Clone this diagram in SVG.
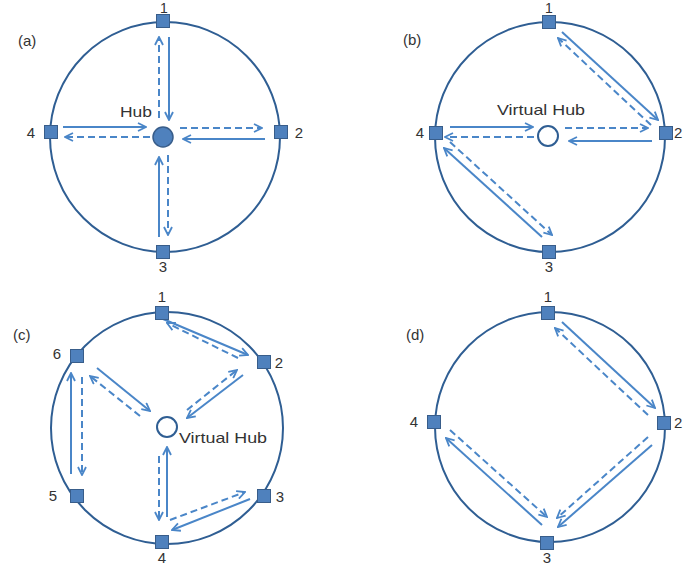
<svg xmlns="http://www.w3.org/2000/svg" width="683" height="571" viewBox="0 0 683 571">
<style>
.ring{fill:none;stroke:#2f5e93;stroke-width:2}
.node{fill:#4f81bd;stroke:#385d8a;stroke-width:1}
.hub{fill:#4f81bd;stroke:#385d8a;stroke-width:1.5}
.vhub{fill:#ffffff;stroke:#2f5e93;stroke-width:2}
.s{fill:none;stroke:#4a86c8;stroke-width:2;marker-end:url(#ah)}
.d{fill:none;stroke:#4a86c8;stroke-width:2;stroke-dasharray:7 4;marker-end:url(#ah)}
text{font-family:"Liberation Sans",Arial,sans-serif;font-size:15px;fill:#333333}
.num{text-anchor:middle}
.top{font-size:14px}
.lbl{font-size:15px}
</style>
<defs>
<marker id="ah" viewBox="0 0 10 10" refX="9" refY="5" markerWidth="10" markerHeight="10" markerUnits="userSpaceOnUse" orient="auto">
<path d="M1,1 L9,5 L1,9" fill="none" stroke="#4a86c8" stroke-width="1.8"/>
</marker>
</defs>
<rect width="683" height="571" fill="#ffffff"/>

<g id="rings">
<circle class="ring" cx="165" cy="137" r="115"/>
<circle class="ring" cx="550" cy="137" r="115"/>
<circle class="ring" cx="167" cy="428" r="116"/>
<circle class="ring" cx="550" cy="427" r="115"/>
</g>

<g id="connectors">
<path class="s" d="M169,37 L169,120"/>
<path class="d" d="M159,118 L159,37"/>
<path class="s" d="M63,127 L146,127"/>
<path class="d" d="M150,137 L65,137"/>
<path class="d" d="M180,128 L262,128"/>
<path class="s" d="M265,139 L183,139"/>
<path class="s" d="M159,237 L159,157"/>
<path class="d" d="M168,155 L168,235"/>

<path class="s" d="M450,127 L533,127"/>
<path class="d" d="M534,137 L445,137"/>
<path class="d" d="M565,128 L648,128"/>
<path class="s" d="M652,141 L569,141"/>
<path class="s" d="M562,32 L658,120"/>
<path class="d" d="M651,125 L558,38"/>
<path class="s" d="M542,237 L444,148"/>
<path class="d" d="M450,142 L552,235"/>

<path class="s" d="M163,319 L248,355"/>
<path class="d" d="M238,358 L167,323"/>
<path class="s" d="M97,368 L150,411"/>
<path class="d" d="M140,416 L90,376"/>
<path class="d" d="M187,410 L237,370"/>
<path class="s" d="M243,375 L187,418"/>
<path class="s" d="M167,517 L167,447"/>
<path class="d" d="M159,456 L159,520"/>
<path class="s" d="M250,499 L172,530"/>
<path class="d" d="M170,520 L245,492"/>
<path class="s" d="M71,474 L71,373"/>
<path class="d" d="M82,377 L82,475"/>

<path class="s" d="M562,322 L655,408"/>
<path class="d" d="M648,415 L555,328"/>
<path class="d" d="M648,437 L557,518"/>
<path class="s" d="M652,445 L558,527"/>
<path class="s" d="M542,525 L446,438"/>
<path class="d" d="M450,430 L547,517"/>
</g>

<g id="panel-a">
<text class="lbl" x="18" y="46">(a)</text>
<g id="a-hub"><circle class="hub" cx="163" cy="137" r="10"/><text x="120" y="117" textLength="32" lengthAdjust="spacingAndGlyphs">Hub</text></g>
<g id="a-n1"><rect class="node" x="156.5" y="14.5" width="13" height="13"/><text class="num top" x="164" y="13">1</text></g>
<g id="a-n2"><rect class="node" x="274.5" y="125.5" width="13" height="13"/><text class="num" x="299" y="138">2</text></g>
<g id="a-n3"><rect class="node" x="156.5" y="245.5" width="13" height="13"/><text class="num" x="163" y="272">3</text></g>
<g id="a-n4"><rect class="node" x="44.5" y="125.5" width="13" height="13"/><text class="num" x="31" y="138">4</text></g>
</g>

<g id="panel-b">
<text class="lbl" x="403" y="45">(b)</text>
<g id="b-hub"><circle class="vhub" cx="548" cy="136" r="10"/><text x="497" y="115" textLength="88" lengthAdjust="spacingAndGlyphs">Virtual Hub</text></g>
<g id="b-n1"><rect class="node" x="542.5" y="15.5" width="13" height="13"/><text class="num top" x="549" y="13">1</text></g>
<g id="b-n2"><rect class="node" x="659.5" y="126.5" width="13" height="13"/><text x="674" y="138">2</text></g>
<g id="b-n3"><rect class="node" x="542.5" y="245.5" width="13" height="13"/><text class="num" x="549" y="272">3</text></g>
<g id="b-n4"><rect class="node" x="429.5" y="126.5" width="13" height="13"/><text class="num" x="420" y="138">4</text></g>
</g>

<g id="panel-c">
<text class="lbl" x="13" y="340">(c)</text>
<g id="c-hub"><circle class="vhub" cx="167" cy="427" r="10"/><text x="179" y="443" textLength="88" lengthAdjust="spacingAndGlyphs">Virtual Hub</text></g>
<g id="c-n1"><rect class="node" x="155.5" y="306.5" width="13" height="13"/><text class="num" x="162" y="302">1</text></g>
<g id="c-n2"><rect class="node" x="257.5" y="355.5" width="13" height="13"/><text class="num" x="279" y="368">2</text></g>
<g id="c-n3"><rect class="node" x="257.5" y="489.5" width="13" height="13"/><text class="num" x="280" y="502">3</text></g>
<g id="c-n4"><rect class="node" x="155.5" y="535.5" width="13" height="13"/><text class="num" x="162" y="563">4</text></g>
<g id="c-n5"><rect class="node" x="70.5" y="489.5" width="13" height="13"/><text class="num" x="53" y="501">5</text></g>
<g id="c-n6"><rect class="node" x="70.5" y="349.5" width="13" height="13"/><text class="num" x="57" y="359">6</text></g>
</g>

<g id="panel-d">
<text class="lbl" x="406" y="340">(d)</text>
<g id="d-n1"><rect class="node" x="541.5" y="306.5" width="13" height="13"/><text class="num" x="548" y="302">1</text></g>
<g id="d-n2"><rect class="node" x="657.5" y="416.5" width="13" height="13"/><text x="674" y="428">2</text></g>
<g id="d-n3"><rect class="node" x="540.5" y="536.5" width="13" height="13"/><text class="num" x="547" y="563">3</text></g>
<g id="d-n4"><rect class="node" x="427.5" y="415.5" width="13" height="13"/><text class="num" x="414" y="427">4</text></g>
</g>
</svg>
